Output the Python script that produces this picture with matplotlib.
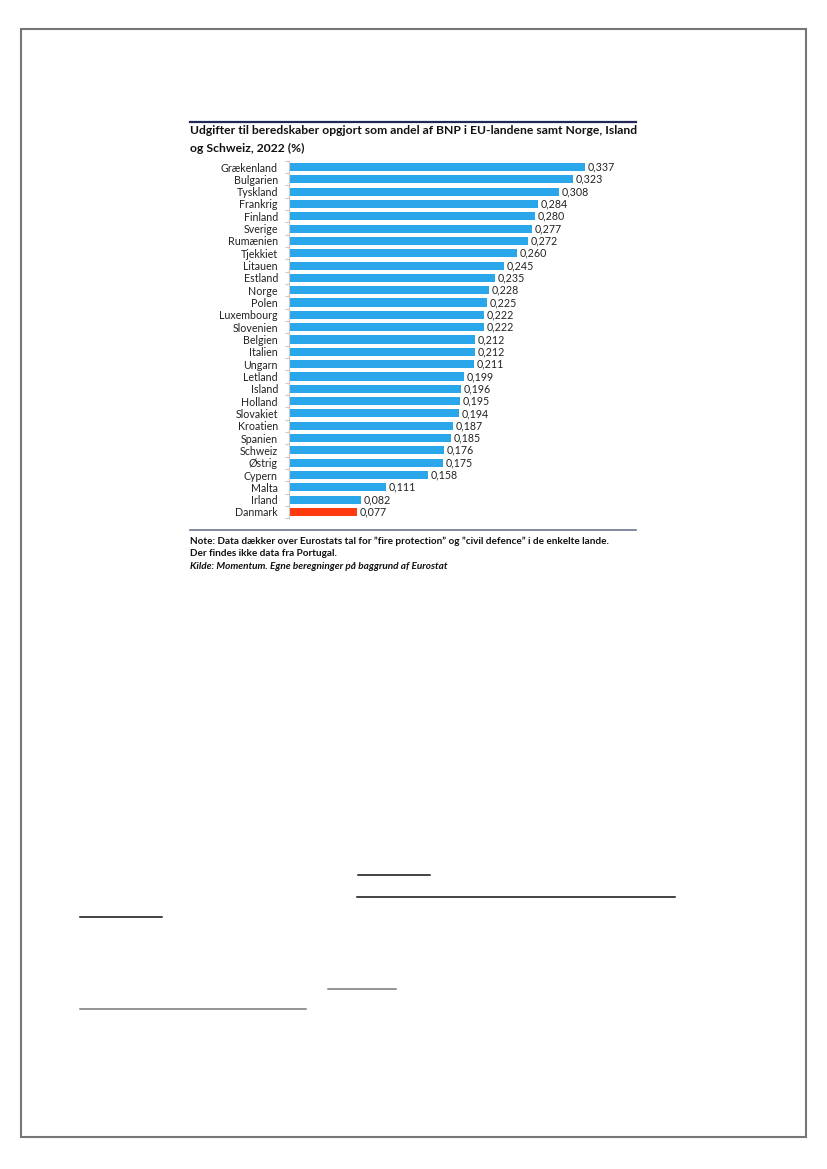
import matplotlib
matplotlib.use("Agg")
import matplotlib.pyplot as plt
from matplotlib.lines import Line2D
from matplotlib.patches import Rectangle

countries = ["Grækenland", "Bulgarien", "Tyskland", "Frankrig", "Finland", "Sverige",
             "Rumænien", "Tjekkiet", "Litauen", "Estland", "Norge", "Polen",
             "Luxembourg", "Slovenien", "Belgien", "Italien", "Ungarn", "Letland",
             "Island", "Holland", "Slovakiet", "Kroatien", "Spanien", "Schweiz",
             "Østrig", "Cypern", "Malta", "Irland", "Danmark"]
values = [0.337, 0.323, 0.308, 0.284, 0.280, 0.277, 0.272, 0.260, 0.245, 0.235,
          0.228, 0.225, 0.222, 0.222, 0.212, 0.212, 0.211, 0.199, 0.196, 0.195,
          0.194, 0.187, 0.185, 0.176, 0.175, 0.158, 0.111, 0.082, 0.077]
highlight = "Danmark"

title1 = "Udgifter til beredskaber opgjort som andel af BNP i EU-landene samt Norge, Island"
title2 = "og Schweiz, 2022 (%)"
note1 = "Note: Data dækker over Eurostats tal for \u201dfire protection\u201d og \u201dcivil defence\u201d i de enkelte lande."
note2 = "Der findes ikke data fra Portugal."
source = "Kilde: Momentum. Egne beregninger på baggrund af Eurostat"

W, H = 827, 1169
fig = plt.figure(figsize=(W / 100, H / 100), dpi=100)
fig.patch.set_facecolor("white")
FONT = ["Lato", "DejaVu Sans"]


def fx(x):
    return x / W


def fy(y):
    return 1 - y / H


# page border
fig.patches.append(Rectangle((fx(21), fy(1137)), fx(806) - fx(21), fy(29) - fy(1137),
                             transform=fig.transFigure, fill=False,
                             edgecolor="#767676", linewidth=1.5))

# chart frame lines
fig.add_artist(Line2D([fx(190), fx(636)], [fy(122), fy(122)], color="#1f2859", linewidth=1.6))
fig.add_artist(Line2D([fx(190), fx(636)], [fy(530), fy(530)], color="#6e7390", linewidth=1.2))

fig.text(fx(190), fy(131), title1, ha="left", va="center", fontsize=8.7, fontweight="bold",
         family=FONT, color="#111111")
fig.text(fx(190), fy(148), title2, ha="left", va="center", fontsize=8.7, fontweight="bold",
         family=FONT, color="#111111")

n = len(countries)
top_c = 167
bot_c = 512
row = (bot_c - top_c) / (n - 1)
axes_top = top_c - row / 2
axes_bot = bot_c + row / 2
x0 = 289
ppu = 878.0
xmax = 0.4
ax = fig.add_axes([fx(x0), fy(axes_bot), xmax * ppu / W, (axes_bot - axes_top) / H])
ax.set_xlim(0, xmax)
ax.set_ylim(n - 0.5, -0.5)
ypos = list(range(n))
colors = ["#ff3a0e" if c == highlight else "#29a7ea" for c in countries]
ax.barh(ypos, values, height=0.66, color=colors)
for i, v in enumerate(values):
    ax.text(v + 0.003, i, f"{v:.3f}".replace(".", ","), va="center", ha="left",
            fontsize=7.7, family=FONT, color="#222222")
ax.set_yticks(ypos)
ax.set_yticklabels(countries, fontsize=7.7, family=FONT, color="#222222")
ax.set_yticks([i + 0.5 for i in range(-1, n)], minor=True)
ax.tick_params(axis="y", which="major", length=0, pad=8)
ax.tick_params(axis="y", which="minor", length=3, color="#c8c8c8", width=0.8)
ax.set_xticks([])
for s in ["top", "right", "bottom"]:
    ax.spines[s].set_visible(False)
ax.spines["left"].set_color("#c8c8c8")
ax.spines["left"].set_linewidth(0.8)

fig.text(fx(190), fy(541), note1, ha="left", va="center", fontsize=7.2, fontweight="bold",
         family=FONT, color="#111111")
fig.text(fx(190), fy(553), note2, ha="left", va="center", fontsize=7.2, fontweight="bold",
         family=FONT, color="#111111")
fig.text(fx(190), fy(566), source, ha="left", va="center", fontsize=7.2, fontweight="bold",
         style="italic", family=FONT, color="#111111")

# underline fragments of the surrounding page text
for (xa, xb, y, c) in [(358, 430, 875, "#111111"), (357, 675, 897, "#111111"),
                       (80, 162, 917, "#111111"), (328, 396, 989, "#777777"),
                       (80, 306, 1009, "#777777")]:
    fig.add_artist(Line2D([fx(xa), fx(xb)], [fy(y), fy(y)], color=c, linewidth=1.1))

fig.savefig("out.png", dpi=100, facecolor="white")
